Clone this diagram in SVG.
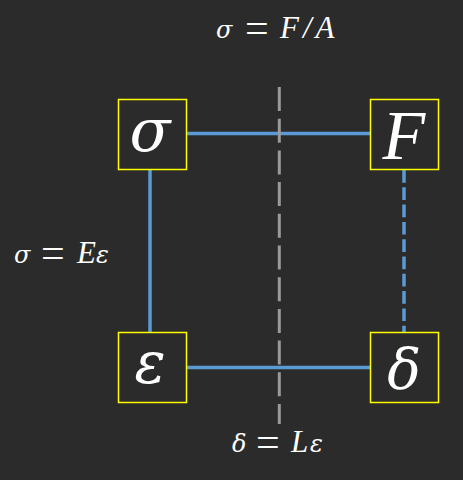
<svg xmlns="http://www.w3.org/2000/svg" width="463" height="480" viewBox="0 0 463 480">
<style>
.box{fill:none;stroke:#ffff00;stroke-width:1.5}
.sym{font-family:"Liberation Serif",serif;font-style:italic;fill:#ffffff;text-anchor:middle}
.gk{font-family:"DejaVu Serif",serif;font-style:italic;font-size:24px}
.lbl{font-family:"Liberation Serif",serif;font-style:italic;fill:#ffffff;font-size:31px}
.up{font-style:normal;font-size:42px}
.link{stroke:#5b9bd5;stroke-width:3.5;fill:none}
</style>
<rect width="463" height="480" fill="#2b2b2b"/>
<g id="connectors">
<line class="link" x1="187" y1="133.5" x2="370" y2="133.5"/>
<line class="link" x1="187" y1="367.5" x2="370" y2="367.5"/>
<line class="link" x1="150" y1="170" x2="150" y2="332"/>
<line class="link" x1="404" y1="170" x2="404" y2="332" stroke-dasharray="12.7 4.6"/>
<line x1="279.3" y1="87" x2="279.3" y2="424" stroke="#9a9a9a" stroke-width="3" stroke-dasharray="24 7.7"/>
</g>
<g id="node-sigma">
<rect class="box" x="118.5" y="99.5" width="68" height="70"/>
<text class="sym gk" x="150" y="151" style="font-size:60px">σ</text>
</g>
<g id="node-F">
<rect class="box" x="370.5" y="99.5" width="68" height="70"/>
<text class="sym" x="404" y="159" font-size="70">F</text>
</g>
<g id="node-epsilon">
<rect class="box" x="118.5" y="332.5" width="68" height="70"/>
<text class="sym gk" x="150" y="383" style="font-size:58px">ε</text>
</g>
<g id="node-delta">
<rect class="box" x="370.5" y="332.5" width="68" height="70"/>
<text class="sym gk" x="404" y="389" style="font-size:56px">δ</text>
</g>
<g id="labels">
<text class="lbl" y="38"><tspan class="gk" x="216">σ</tspan><tspan class="up" x="245" dy="4">=</tspan><tspan x="280" dy="-4" letter-spacing="4">F/A</tspan></text>
<text class="lbl" y="263"><tspan class="gk" x="14">σ</tspan><tspan class="up" x="41" dy="4">=</tspan><tspan x="77" dy="-4">E</tspan><tspan class="gk" x="96">ε</tspan></text>
<text class="lbl" y="452"><tspan class="gk" x="232">δ</tspan><tspan class="up" x="256" dy="4">=</tspan><tspan x="291" dy="-4">L</tspan><tspan class="gk" x="310">ε</tspan></text>
</g>
</svg>
